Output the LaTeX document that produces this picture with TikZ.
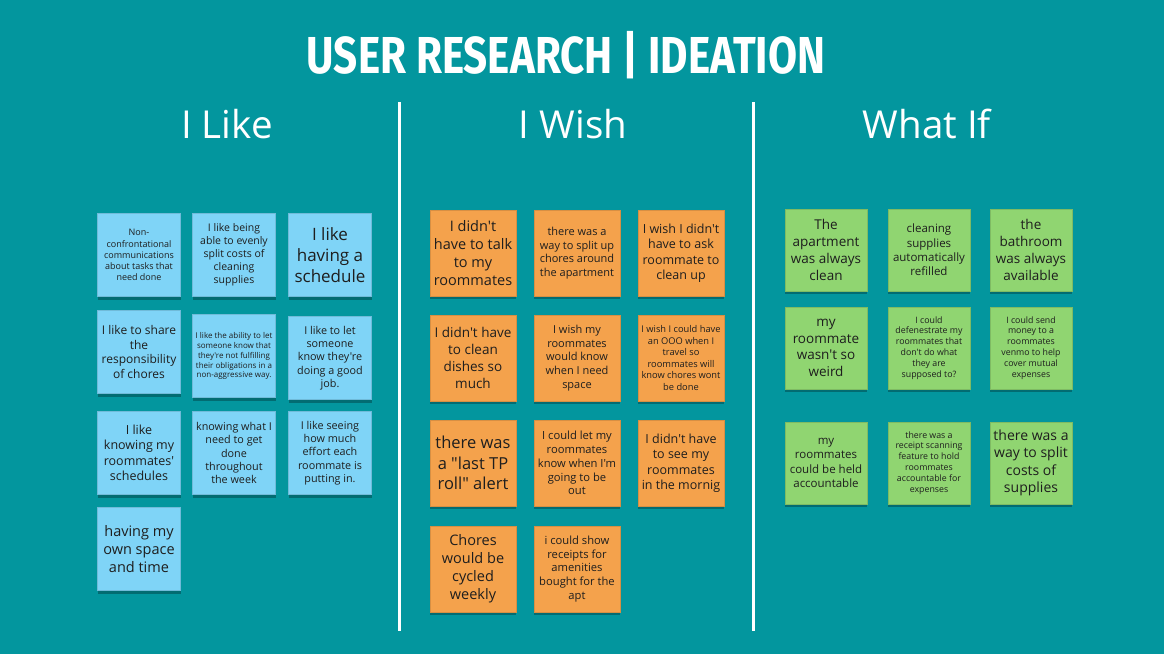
\documentclass[tikz,border=0pt]{standalone}
\usepackage{fontspec}
\setmainfont{Open Sans}[Ligatures=TeXOff]
\newfontfamily\titlefont[FakeStretch=0.81]{Fira Sans}
\usepackage{xcolor}
\usepackage{tikz}
\usetikzlibrary{shadows}
\definecolor{boardTeal}{HTML}{03969E}
\definecolor{likeBlue}{HTML}{7FD4F7}
\definecolor{wishOrange}{HTML}{F4A24C}
\definecolor{ifGreen}{HTML}{90D571}
\definecolor{noteInk}{HTML}{1E1E1E}
\newcommand{\notefont}[1]{\fontsize{#1}{#1}\linespread{1.24}\selectfont}
\tikzset{
  sticky/.style={rectangle,minimum width=83pt,minimum height=83pt,inner sep=1pt,align=center,
    text=noteInk,font=\notefont{#1},
    drop shadow={shadow xshift=0pt,shadow yshift=-3pt,opacity=0.28,fill=black}},
  likenote/.style={sticky=#1,fill=likeBlue,draw=likeBlue!88!black,line width=0.4pt},
  wishnote/.style={sticky=#1,fill=wishOrange,draw=wishOrange!88!black,line width=0.4pt,
    minimum width=86pt,minimum height=86pt},
  ifnote/.style={sticky=#1,fill=ifGreen,draw=ifGreen!88!black,line width=0.4pt,
    minimum width=82pt,minimum height=82pt},
  heading/.style={text=white,font=\fontsize{38.5}{46}\selectfont},
  boardtitle/.style={text=white,font=\titlefont\bfseries\fontsize{52}{60}\selectfont},
  divider/.style={draw=white,line width=3pt}
}

\begin{document}
\begin{tikzpicture}[x=1pt,y=-1pt]
  \fill[boardTeal] (0,0) rectangle (1164,654);
  \useasboundingbox (0,0) rectangle (1164,654);
  \node[boardtitle] (title) at (566,55) {USER RESEARCH | IDEATION};
  \node[heading] (like) at (227,124) {I Like};
  \node[heading] (wish) at (573,124) {I Wish};
  \node[heading] (whatif) at (927,124) {What If};
  \draw[divider] (399,102) -- (399,631);
  \draw[divider] (753,102) -- (753,631);

  \node[likenote=9] (b1) at (139,255) {Non-\\confrontational\\communications\\about tasks that\\need done};
  \node[likenote=10.5] (b2) at (234,255) {I like being\\able to evenly\\split costs of\\cleaning\\supplies};
  \node[likenote=17] (b3) at (330,255) {I like\\having a\\schedule};
  \node[likenote=12] (b4) at (139,352) {I like to share\\the\\responsibility\\of chores};
  \node[likenote=8] (b5) at (234,356) {I like the ability to let\\someone know that\\they're not fulfilling\\their obligations in a\\non-aggressive way.};
  \node[likenote=10.8] (b6) at (330,358) {I like to let\\someone\\know they're\\doing a good\\job.};
  \node[likenote=12.5] (b7) at (139,453) {I like\\knowing my\\roommates'\\schedules};
  \node[likenote=10.8] (b8) at (234,453) {knowing what I\\need to get\\done\\throughout\\the week};
  \node[likenote=10.8] (b9) at (330,453) {I like seeing\\how much\\effort each\\roommate is\\putting in.};
  \node[likenote=14.5] (b10) at (139,549) {having my\\own space\\and time};

  \node[wishnote=14.5] (o1) at (473,253) {I didn't\\have to talk\\to my\\roommates};
  \node[wishnote=11] (o2) at (577,253) {there was a\\way to split up\\chores around\\the apartment};
  \node[wishnote=12.5] (o3) at (681,253) {I wish I didn't\\have to ask\\roommate to\\clean up};
  \node[wishnote=13.5] (o4) at (473,358) {I didn't have\\to clean\\dishes so\\much};
  \node[wishnote=11] (o5) at (577,358) {I wish my\\roommates\\would know\\when I need\\space};
  \node[wishnote=9.3] (o6) at (681,358) {I wish I could have\\an OOO when I\\travel so\\roommates will\\know chores wont\\be done};
  \node[wishnote=16.5] (o7) at (473,463) {there was\\a "last TP\\roll" alert};
  \node[wishnote=11.2] (o8) at (577,463) {I could let my\\roommates\\know when I'm\\going to be\\out};
  \node[wishnote=12.5] (o9) at (681,463) {I didn't have\\to see my\\roommates\\in the mornig};
  \node[wishnote=14.5] (o10) at (473,569) {Chores\\would be\\cycled\\weekly};
  \node[wishnote=11.2] (o11) at (577,569) {i could show\\receipts for\\amenities\\bought for the\\apt};

  \node[ifnote=13.5] (g1) at (826,250) {The\\apartment\\was always\\clean};
  \node[ifnote=11.5] (g2) at (929,250) {cleaning\\supplies\\automatically\\refilled};
  \node[ifnote=13.5] (g3) at (1031,250) {the\\bathroom\\was always\\available};
  \node[ifnote=13.5] (g4) at (826,348) {my\\roommate\\wasn't so\\weird};
  \node[ifnote=8.8] (g5) at (929,348) {I could\\defenestrate my\\roommates that\\don't do what\\they are\\supposed to?};
  \node[ifnote=8.8] (g6) at (1031,348) {I could send\\money to a\\roommates\\venmo to help\\cover mutual\\expenses};
  \node[ifnote=11.5] (g7) at (826,463) {my\\roommates\\could be held\\accountable};
  \node[ifnote=8.8] (g8) at (929,463) {there was a\\receipt scanning\\feature to hold\\roommates\\accountable for\\expenses};
  \node[ifnote=14] (g9) at (1031,463) {there was a\\way to split\\costs of\\supplies};
\end{tikzpicture}
\end{document}
